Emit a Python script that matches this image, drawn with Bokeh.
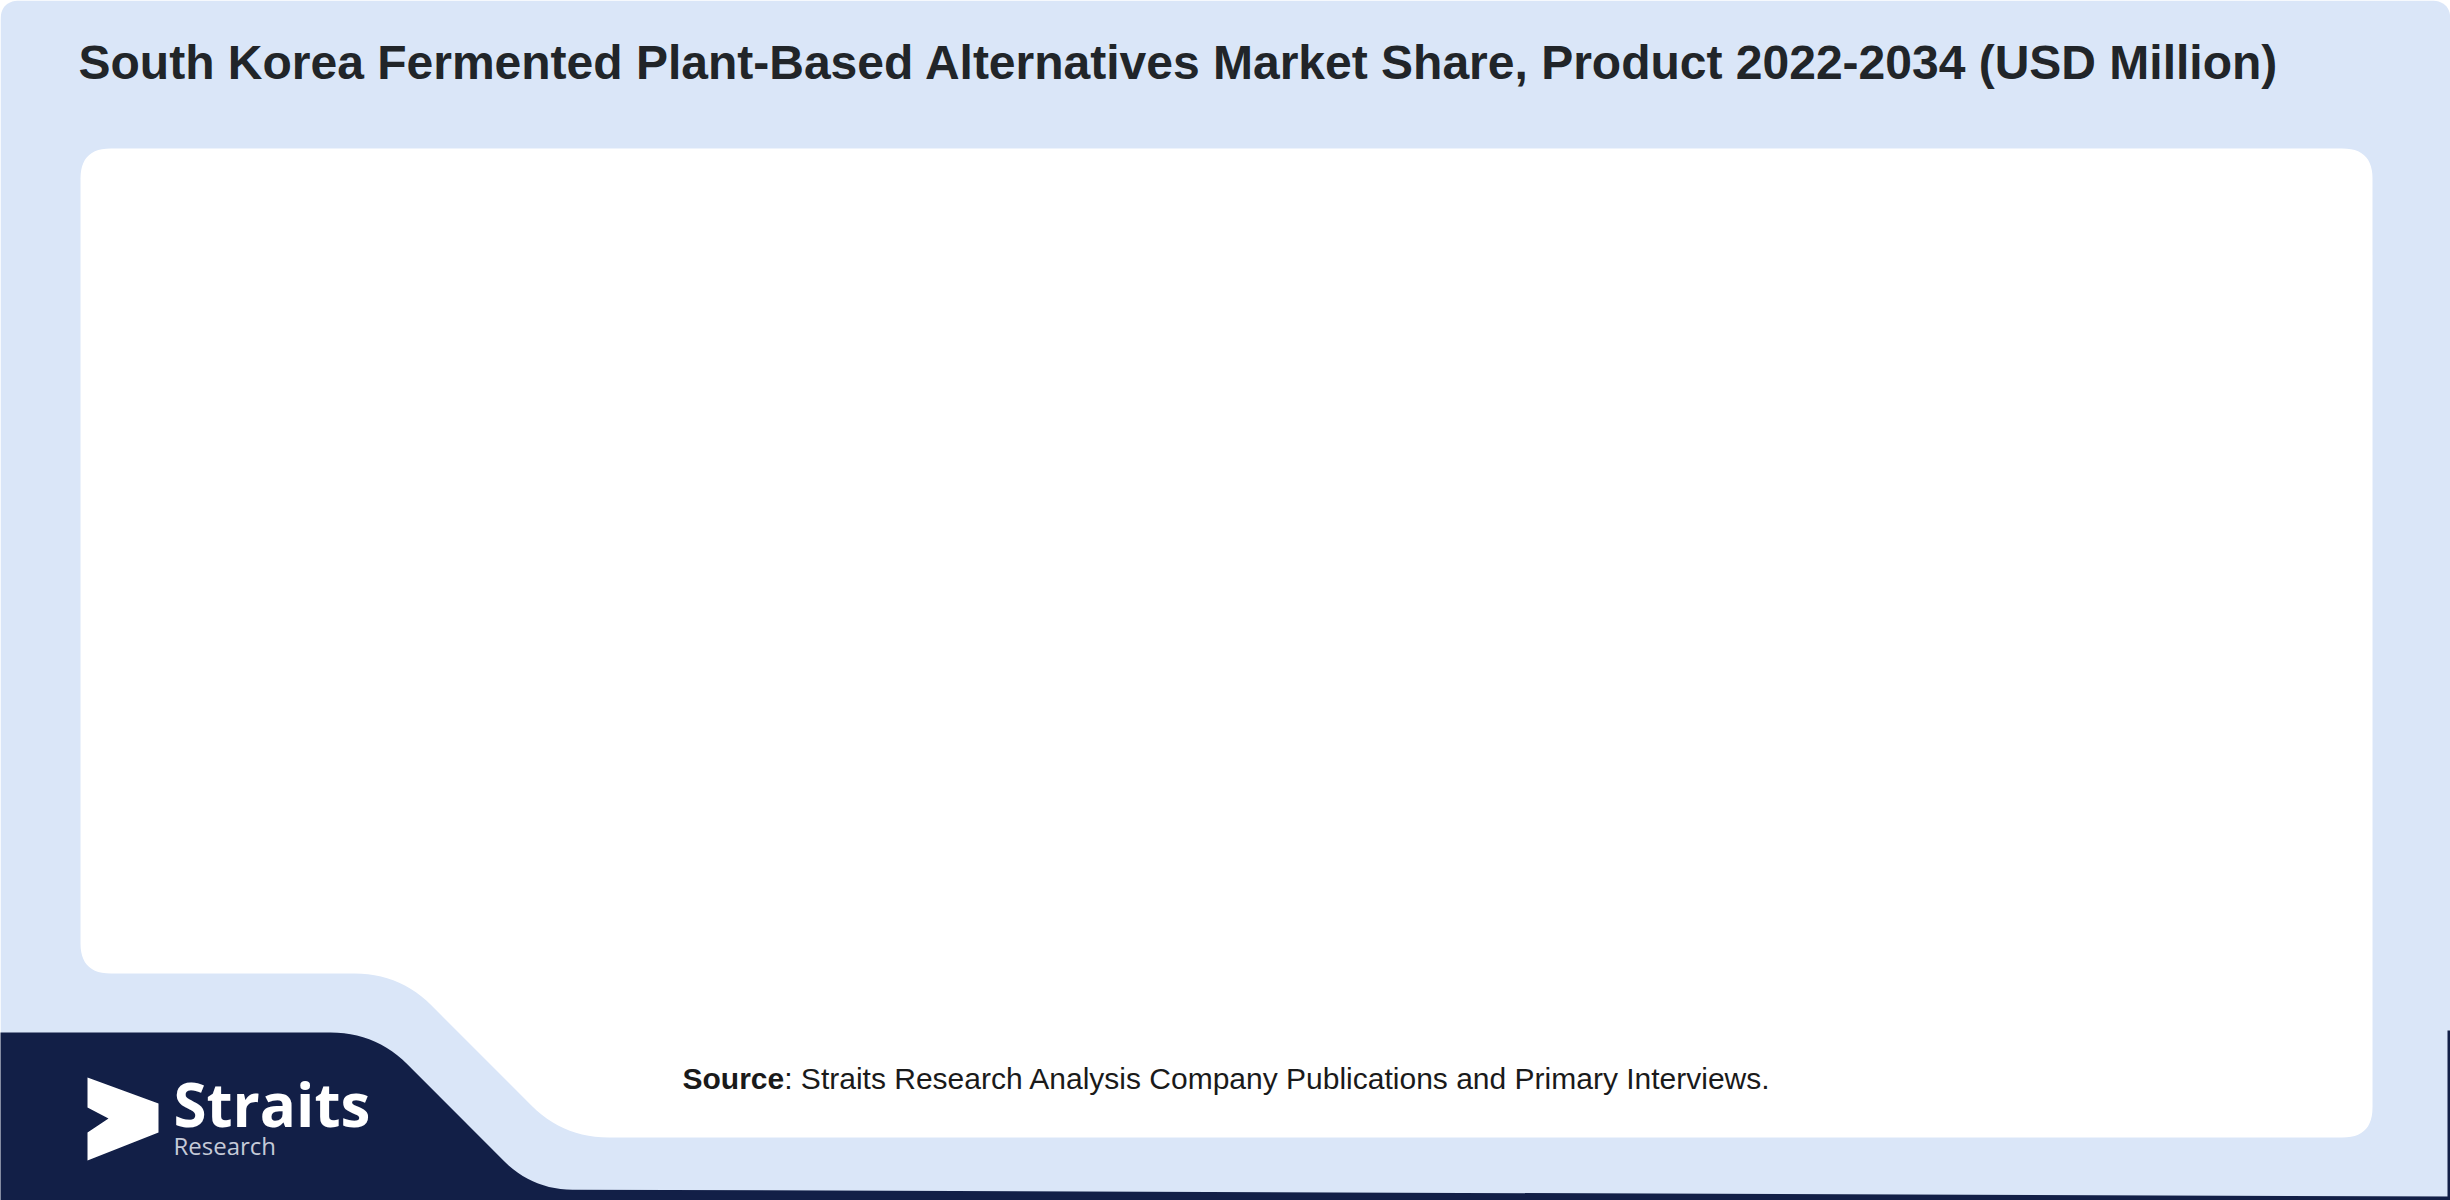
import numpy as np
from bokeh.plotting import figure
from bokeh.models import Range1d
from bokeh.core.properties import value
from bokeh.embed import file_html
from bokeh.resources import INLINE

# ---- chart content (the reference chart holds no plotted series) ----
title_text = "South Korea Fermented Plant-Based Alternatives Market Share, Product 2022-2034 (USD Million)"
source_label = "Source"
source_text = ": Straits Research Analysis Company Publications and Primary Interviews."
brand_name = "Straits"
brand_sub = "Research"

# ---- colours ----
BG_BLUE = "#DAE6F8"
NAVY = "#121F47"
TITLE_COLOR = "#212529"

W, H = 2450, 1200

p = figure(width=W, height=H, output_backend="svg", toolbar_location=None,
           x_range=Range1d(0, W), y_range=Range1d(H, 0),
           x_axis_type=None, y_axis_type=None, min_border=0,
           background_fill_color="white", border_fill_color="white")
p.outline_line_color = None
p.grid.visible = False


def rounded_poly(pts, radii, n=14):
    xs, ys = [], []
    m = len(pts)
    for i in range(m):
        v = np.array(pts[i], float)
        r = radii[i]
        if r <= 0:
            xs.append(v[0]); ys.append(v[1]); continue
        a = np.array(pts[i - 1], float)
        b = np.array(pts[(i + 1) % m], float)
        ua = (a - v) / np.linalg.norm(a - v)
        ub = (b - v) / np.linalg.norm(b - v)
        ra = min(r, np.linalg.norm(a - v) / 2)
        rb = min(r, np.linalg.norm(b - v) / 2)
        p1 = v + ua * ra
        p2 = v + ub * rb
        for t in np.linspace(0, 1, n):
            q = (1 - t) ** 2 * p1 + 2 * (1 - t) * t * v + t ** 2 * p2
            xs.append(q[0]); ys.append(q[1])
    return xs, ys


# light blue card background
bx, by = rounded_poly([(0, 0), (2450, 0), (2450, 1200), (0, 1200)], [20, 20, 0, 0])
p.patch(bx, by, fill_color=BG_BLUE, line_color=None)

# white inner panel with notched bottom-left
wx, wy = rounded_poly([(80, 148), (2372, 148), (2372, 1137), (563, 1137), (399, 973), (80, 973)],
                      [30, 30, 30, 45, 45, 30])
p.patch(wx, wy, fill_color="white", line_color=None)

# navy footer shape
nx, ny = rounded_poly([(-20, 1032), (375, 1032), (532, 1189), (2450, 1196), (2470, 1220), (-20, 1220)],
                      [0, 45, 40, 0, 0, 0])
p.patch(nx, ny, fill_color=NAVY, line_color=None)
# thin navy edge on the right
p.patch([2447, 2450, 2450, 2447], [1030, 1030, 1200, 1200], fill_color=NAVY, line_color=None)

# logo chevron
cx = [87, 158, 158, 87, 87, 108, 87]
cy = [1077, 1103, 1132, 1160, 1132, 1118, 1107]
p.patch(cx, cy, fill_color="white", line_color=None)

# logo texts
p.text(x=[173], y=[1103], text=[brand_name], text_color="white",
       text_font=value("Open Sans"), text_font_style="bold", text_font_size="60px",
       text_baseline="alphabetic", text_align="left")
p.text(x=[173], y=[1145], text=[brand_sub], text_color="#C5CAD8",
       text_font=value("Open Sans"), text_font_size="24px",
       text_baseline="alphabetic", text_align="left")

# title
p.text(x=[78], y=[62], text=[title_text], text_color=TITLE_COLOR,
       text_font=value("Liberation Sans"), text_font_style="bold", text_font_size="48px",
       text_baseline="alphabetic", text_align="left")

# source line
p.text(x=[682], y=[1078], text=[source_label], text_color="#1a1a1a",
       text_font=value("Liberation Sans"), text_font_style="bold", text_font_size="30px",
       text_baseline="alphabetic", text_align="left")
p.text(x=[682 + 3.39 * 30], y=[1078], text=[source_text], text_color="#1a1a1a",
       text_font=value("Liberation Sans"), text_font_size="30px",
       text_baseline="alphabetic", text_align="left")

open("out.html", "w").write(file_html(p, INLINE))
